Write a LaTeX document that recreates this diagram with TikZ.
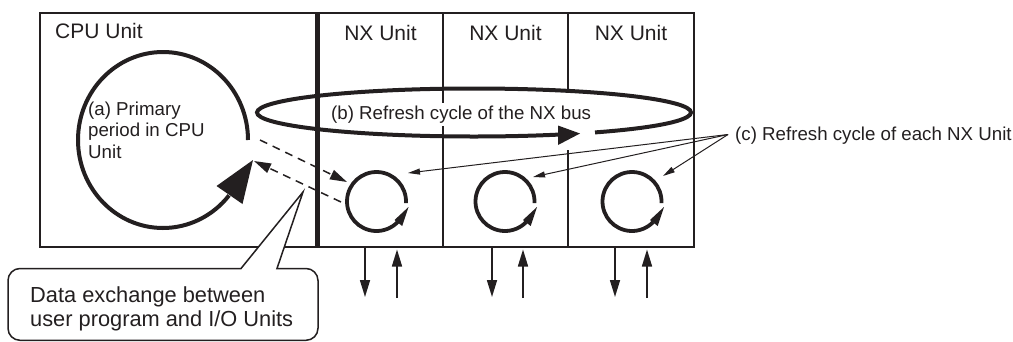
\documentclass[tikz,border=0pt]{standalone}
\usepackage{fontspec}
\setmainfont{Liberation Sans}
\usetikzlibrary{arrows.meta,calc}
\definecolor{ink}{RGB}{35,31,32}
\newcommand\fsHead{\fontsize{21}{25}\selectfont}
\newcommand\fsLab{\fontsize{18.7}{21.5}\selectfont}
\newcommand\fsCall{\fontsize{21.8}{25}\selectfont}
\begin{document}
\begin{tikzpicture}[x=1pt,y=1pt,
  box/.style={draw=ink, line width=1.5pt},
  bigring/.style={draw=ink, line width=4pt},
  ring/.style={draw=ink, line width=3.8pt},
  head/.style={fill=ink},
  txt/.style={anchor=base west, inner sep=0pt, text=ink},
  dashlink/.style={draw=ink, line width=1.5pt, dash pattern=on 8pt off 6pt, -{Triangle[length=17pt,width=10pt]}},
  pointer/.style={draw=ink, line width=1pt, -{Triangle[length=12pt,width=6pt]}},
  io/.style={draw=ink, line width=1.6pt, -{Triangle[length=17pt,width=10pt]}}]
\useasboundingbox (0,0) rectangle (1013,-341);

% unit boxes
\draw[box] (40,-13) rectangle (316,-247);
\draw[box] (318,-13) rectangle (694,-247);
\draw[box] (443,-13) -- (443,-247);
\draw[box] (568,-13) -- (568,-247);
\draw[draw=ink, line width=4.5pt] (317.5,-12.3) -- (317.5,-247.7);

% headings
\node[txt, font=\fsHead] (cpu) at (55,-38.5) {CPU Unit};
\node[txt, font=\fsHead, anchor=base] (nx1) at (380.5,-40.5) {NX Unit};
\node[txt, font=\fsHead, anchor=base] (nx2) at (505.5,-40.5) {NX Unit};
\node[txt, font=\fsHead, anchor=base] (nx3) at (631,-40.5) {NX Unit};

% gap mask and (b) label with white background
\fill[white] (559,-93) rectangle (593,-150);
\node[txt, font=\fsLab, fill=white, inner xsep=2pt, inner ysep=3pt] (blab) at (329,-119.5) {(b) Refresh cycle of the NX bus};

% NX bus ellipse
\coordinate (bus) at (474,-112.5);
\draw[bigring] (bus) ++(-56.1:217 and 24) arc[start angle=-56.1, end angle=292.8, x radius=217, y radius=24];
\fill[head] (580,-133.5) -- (558,-125.5) -- (558,-145) -- cycle;

% CPU primary period
\coordinate (cpuc) at (163,-140);
\draw[bigring] (cpuc) ++(0:85 and 88) arc[start angle=0, end angle=321, x radius=85, y radius=88];
\fill[head] (253,-160) -- (216.5,-186) -- (242.5,-204) -- cycle;
\node[txt, font=\fsLab] (a1) at (88,-115) {(a) Primary};
\node[txt, font=\fsLab] (a2) at (88,-136.5) {period in CPU};
\node[txt, font=\fsLab] (a3) at (88,-158) {Unit};

% NX unit refresh rings
\foreach \cx/\n in {376.5/1, 505/2, 632/3}{
  \coordinate (r\n) at (\cx,-201.5);
  \draw[ring] (r\n) ++(-3:29.5) arc[start angle=-3, end angle=316, radius=29.5];
  \fill[head] ($(r\n)+(32,-5.5)$) -- ($(r\n)+(18,-18.5)$) -- ($(r\n)+(25.7,-24.5)$) -- cycle;
}

% dashed data exchange links
\coordinate (d1s) at (260,-140);
\coordinate (d1e) at (347,-182);
\coordinate (d2s) at (341,-202);
\coordinate (d2e) at (254,-161);
\draw[dashlink] (d1s) -- (d1e);
\draw[dashlink] (d2s) -- (d2e);

% (c) label and pointers
\node[txt, font=\fsLab] (clab) at (735,-140) {(c) Refresh cycle of each NX Unit};
\coordinate (cj) at (728,-134.5);
\coordinate (ct1) at (408,-173);
\coordinate (ct2) at (533,-177);
\coordinate (ct3) at (663,-176);
\draw[pointer] (cj) -- (ct1);
\draw[pointer] (cj) -- (ct2);
\draw[pointer] (cj) -- (ct3);

% I/O arrows
\foreach \dx/\ux/\n in {365/397/1, 492/523/2, 615/647/3}{
  \coordinate (dn\n s) at (\dx,-248);
  \coordinate (dn\n e) at (\dx,-297);
  \coordinate (up\n s) at (\ux,-298);
  \coordinate (up\n e) at (\ux,-249.5);
  \draw[io] (dn\n s) -- (dn\n e);
  \draw[io] (up\n s) -- (up\n e);
}

% callout
\coordinate (ctip) at (303,-192);
\draw[draw=ink, line width=1.5pt, fill=white]
  (8,-300) [rounded corners=12pt] -- (8,-268.5) [sharp corners] -- (241,-268.5) -- (ctip) -- (277,-268.5)
  [rounded corners=12pt] -- (318,-268.5) -- (318,-340.3) -- (8,-340.3) [sharp corners] -- cycle;
\node[txt, font=\fsCall] (call1) at (30,-302) {Data exchange between};
\node[txt, font=\fsCall] (call2) at (30,-326) {user program and I/O Units};
\end{tikzpicture}
\end{document}
